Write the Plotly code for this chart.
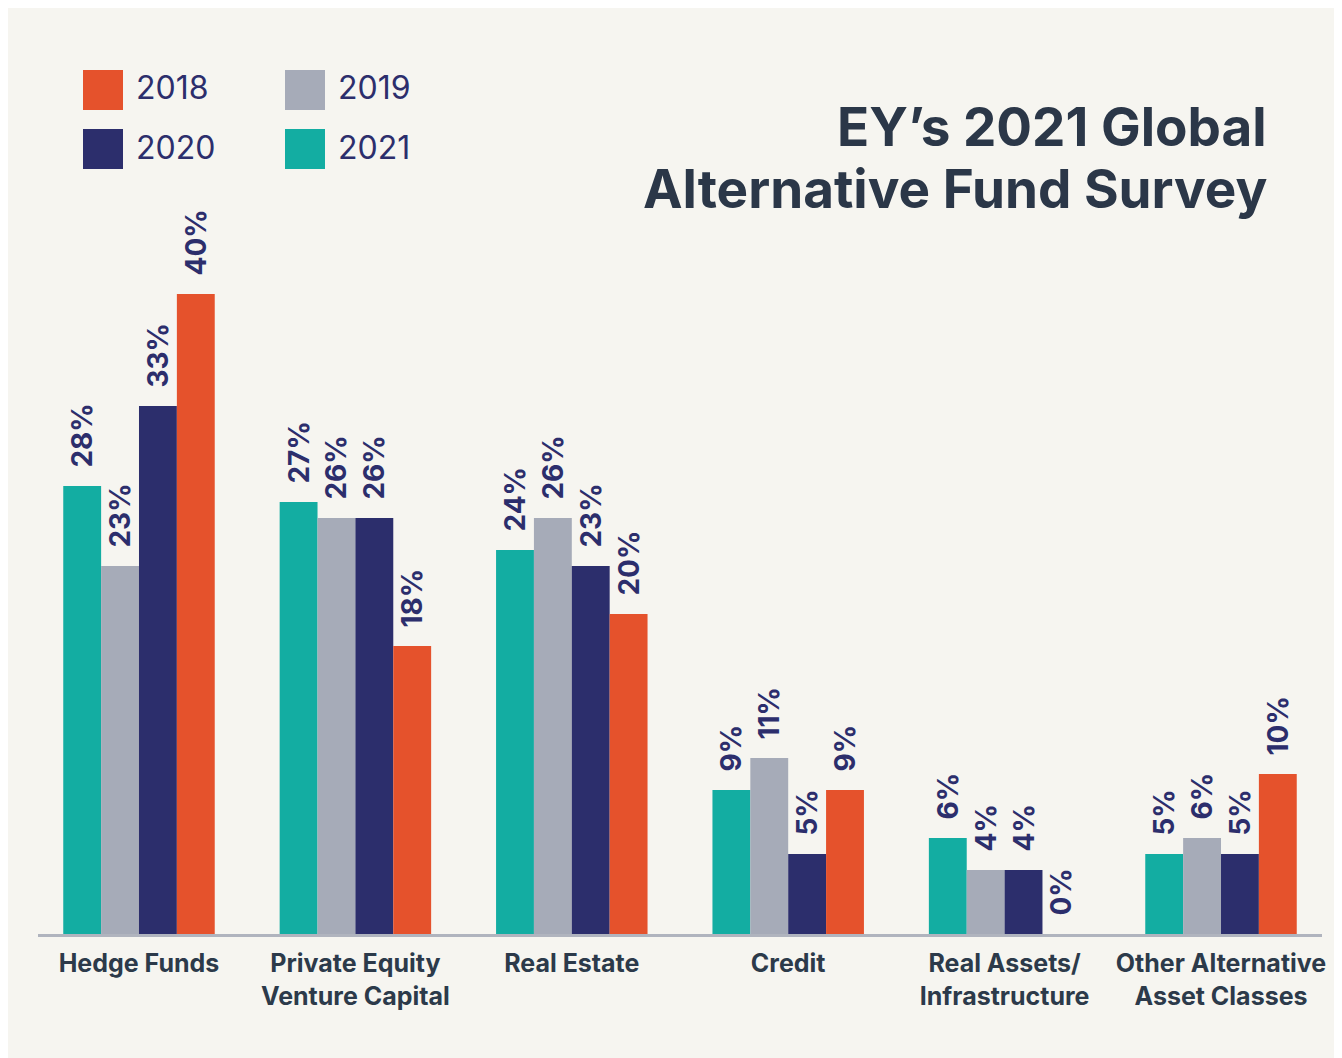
import plotly.graph_objects as go

# ---------------- data ----------------
categories = [
    "Hedge Funds",
    "Private Equity<br>Venture Capital",
    "Real Estate",
    "Credit",
    "Real Assets/<br>Infrastructure",
    "Other Alternative<br>Asset Classes",
]
years = ["2021", "2019", "2020", "2018"]
y2021 = [28, 27, 24, 9, 6, 5]
y2019 = [23, 26, 26, 11, 4, 6]
y2020 = [33, 26, 23, 5, 4, 5]
y2018 = [40, 18, 20, 9, 0, 10]

# ---------------- styles ----------------
W, H = 1342, 1058
L, R, T, B = 30, 28, 126, 132
PW, PH = W - L - R, H - T - B

TEAL, GRAY, NAVY, ORANGE = "#13ada2", "#a6abb8", "#2c2e6c", "#e5522c"
TITLE_C = "#2b3748"
LABEL_C = "#2c3a4a"
BG = "#f6f5f0"
FONT = "Inter"

series = [(years[0], y2021, TEAL), (years[1], y2019, GRAY),
          (years[2], y2020, NAVY), (years[3], y2018, ORANGE)]


def px_x(p):
    return (p - L) / PW


def px_y(p):
    return (H - B - p) / PH


fig = go.Figure()
for name, vals, col in series:
    fig.add_trace(go.Bar(
        name=name, x=categories, y=vals,
        marker=dict(color=col, line=dict(width=0)),
        text=["\u00a0\u00a0\u200a" + f"{v}%" for v in vals],
        textposition="outside", textangle=-90, constraintext="none",
        cliponaxis=False,
        textfont=dict(family=FONT, size=28, color=NAVY, weight="bold"),
        showlegend=False,
    ))

shapes = []
annotations = []

# manual legend (2 x 2)
legend_items = [("2018", ORANGE, 75, 62), ("2019", GRAY, 277, 62),
                ("2020", NAVY, 75, 121), ("2021", TEAL, 277, 121)]
for name, col, lx, ly in legend_items:
    shapes.append(dict(type="rect", xref="paper", yref="paper",
                       x0=px_x(lx), x1=px_x(lx + 40), y0=px_y(ly + 40), y1=px_y(ly),
                       fillcolor=col, line=dict(width=0)))
    annotations.append(dict(xref="paper", yref="paper", x=px_x(lx + 51), y=px_y(ly + 18),
                            xanchor="left", yanchor="middle", showarrow=False,
                            text=name, font=dict(family=FONT, size=32, color=NAVY)))

title_lines = ["EY\u2019s 2021 Global", "Alternative Fund Survey"]
for i, line in enumerate(title_lines):
    annotations.append(dict(
        xref="paper", yref="paper", x=px_x(1261), y=px_y(118.5 + 63 * i),
        xanchor="right", yanchor="middle", align="right", showarrow=False,
        text=line,
        font=dict(family=FONT, size=53, color=TITLE_C, weight="bold")))

fig.update_layout(
    width=W, height=H, autosize=False,
    margin=dict(l=L, r=R, t=T, b=B, pad=0),
    paper_bgcolor=BG, plot_bgcolor=BG,
    barmode="group", bargap=0.3, bargroupgap=0,
    shapes=shapes, annotations=annotations,
    showlegend=False,
)
fig.update_xaxes(
    type="category", range=[-0.4667, 5.4667],
    showline=True, linecolor="#b0b4be", linewidth=3,
    showgrid=False, zeroline=False,
    ticks="outside", ticklen=5, tickcolor="rgba(0,0,0,0)",
    tickfont=dict(family=FONT, size=25, color=LABEL_C, weight="bold"),
)
fig.update_yaxes(range=[0, 50], visible=False, showgrid=False, zeroline=False)

fig.write_html("out.html", config={"responsive": False})
